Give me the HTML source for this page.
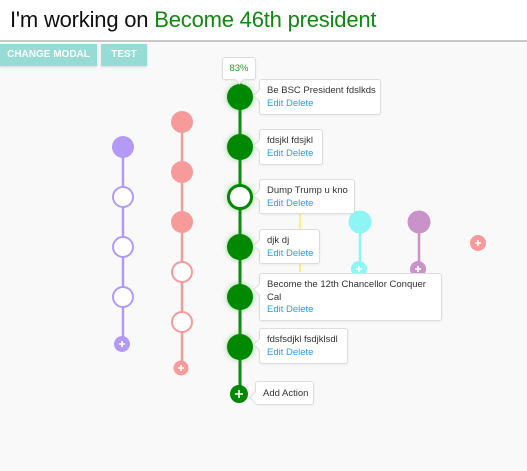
<!DOCTYPE html>
<html><head><style>
*{margin:0;padding:0;box-sizing:border-box}
body{width:527px;height:471px;background:#f9f9f9;font-family:"Liberation Sans",sans-serif;position:relative;overflow:hidden}
#hdr{position:absolute;left:0;top:0;width:527px;height:42px;background:#fff;border-bottom:2px solid #c8c8c8}
#hdr h1{position:absolute;left:10px;top:7px;font-size:22px;font-weight:normal;color:#111;white-space:nowrap;letter-spacing:-0.2px}
#hdr h1 span{color:#118811}
.btn{position:absolute;top:44px;height:22px;background:#96dbd4;color:#fff;font-size:10px;font-weight:bold;line-height:22px;text-align:center;box-shadow:0 1px 2px rgba(0,0,0,.15)}
.card{position:absolute;background:#fff;border:1px solid #ddd;border-radius:3px;font-size:9.5px;color:#333;padding:5px 7px;line-height:12.5px;white-space:nowrap;box-shadow:0 1px 2px rgba(0,0,0,.06)}
.card:before{content:"";position:absolute;left:-5px;top:11px;width:8px;height:8px;background:#fff;transform:rotate(45deg);border-left:1px solid #ddd;border-bottom:1px solid #ddd}
.card.p:before{display:none}
.card b{font-weight:normal;color:#2a9be8;display:block}
svg{position:absolute;left:0;top:0}
</style></head><body>
<div id="hdr"><h1>I'm working on <span>Become 46th president</span></h1></div>
<div class="btn" style="left:0;width:97px">CHANGE MODAL</div>
<div class="btn" style="left:101px;width:46px">TEST</div>
<svg width="527" height="471">
<defs><filter id="g" x="-1" y="-1" width="3" height="3"><feGaussianBlur stdDeviation="3"/></filter></defs>
<line x1="300" y1="212" x2="300" y2="272" stroke="#f7f08a" stroke-width="2"/>
<line x1="123" y1="147" x2="123" y2="344" stroke="#b39af7" stroke-width="2.5"/>
<circle cx="123" cy="147" r="11" fill="#b39af7"/>
<circle cx="123" cy="197" r="10" fill="#fff" stroke="#b39af7" stroke-width="2"/>
<circle cx="123" cy="247" r="10" fill="#fff" stroke="#b39af7" stroke-width="2"/>
<circle cx="123" cy="297" r="10" fill="#fff" stroke="#b39af7" stroke-width="2"/>
<circle cx="122" cy="344" r="8" fill="#b39af7"/>
<line x1="182" y1="122" x2="182" y2="368" stroke="#f79a9a" stroke-width="2.5"/>
<circle cx="182" cy="122" r="11" fill="#f79a9a"/>
<circle cx="182" cy="172" r="11" fill="#f79a9a"/>
<circle cx="182" cy="222" r="11" fill="#f79a9a"/>
<circle cx="182" cy="272" r="10" fill="#fff" stroke="#f79a9a" stroke-width="2"/>
<circle cx="182" cy="322" r="10" fill="#fff" stroke="#f79a9a" stroke-width="2"/>
<circle cx="181" cy="368" r="7.5" fill="#f79a9a"/>
<line x1="360" y1="222" x2="360" y2="269" stroke="#8ef5f5" stroke-width="2.5"/>
<circle cx="360" cy="222" r="11.5" fill="#8ef5f5"/>
<circle cx="359" cy="269" r="8" fill="#8ef5f5"/>
<line x1="419" y1="222" x2="419" y2="269" stroke="#c992c9" stroke-width="2.5"/>
<circle cx="419" cy="222" r="11.5" fill="#c992c9"/>
<circle cx="418" cy="269" r="8" fill="#c992c9"/>
<circle cx="478" cy="243" r="8" fill="#f79a9a"/>
<line x1="240" y1="82" x2="240" y2="394" stroke="#118811" stroke-width="3"/>
<g fill="#3a3" opacity=".5" filter="url(#g)">
<circle cx="240" cy="97" r="13"/><circle cx="240" cy="147" r="13"/><circle cx="240" cy="197" r="13"/><circle cx="240" cy="247" r="13"/><circle cx="240" cy="297" r="13"/><circle cx="240" cy="347" r="13"/>
</g>
<g fill="#008800">
<circle cx="240" cy="97" r="13"/><circle cx="240" cy="147" r="13"/><circle cx="240" cy="247" r="13"/><circle cx="240" cy="297" r="13"/><circle cx="240" cy="347" r="13"/>
</g>
<circle cx="240" cy="197" r="11.5" fill="#fff" stroke="#008800" stroke-width="3"/>
<circle cx="239" cy="394" r="9" fill="#008800"/>
<g stroke="#fff" stroke-width="1.6">
<path d="M119 344h6M122 341v6"/><path d="M178 368h6M181 365v6"/><path d="M356 269h6M359 266v6"/><path d="M415 269h6M418 266v6"/><path d="M475 243h6M478 240v6"/><path d="M235 394h8M239 390v8"/>
</g>
</svg>
<div class="card p" style="left:222px;top:57px;width:34px;height:23px;padding:0;text-align:center;line-height:22px;color:#2a9a2a;font-size:9.5px">83%<span style="position:absolute;left:13px;top:18px;width:7px;height:7px;background:#fff;transform:rotate(45deg);border-right:1px solid #ddd;border-bottom:1px solid #ddd"></span></div>
<div class="card" style="left:259px;top:79px;width:122px;height:36px">Be BSC President fdslkds<b>Edit Delete</b></div>
<div class="card" style="left:259px;top:129px;width:64px;height:36px">fdsjkl fdsjkl<b>Edit Delete</b></div>
<div class="card" style="left:259px;top:179px;width:96px;height:35px">Dump Trump u kno<b>Edit Delete</b></div>
<div class="card" style="left:259px;top:229px;width:61px;height:35px">djk dj<b>Edit Delete</b></div>
<div class="card" style="left:259px;top:273px;width:183px;height:48px">Become the 12th Chancellor Conquer<br>Cal<b>Edit Delete</b></div>
<div class="card" style="left:259px;top:328px;width:89px;height:36px">fdsfsdjkl fsdjklsdl<b>Edit Delete</b></div>
<div class="card" style="left:255px;top:381px;width:59px;height:24px;line-height:13px">Add Action</div>
</body></html>
